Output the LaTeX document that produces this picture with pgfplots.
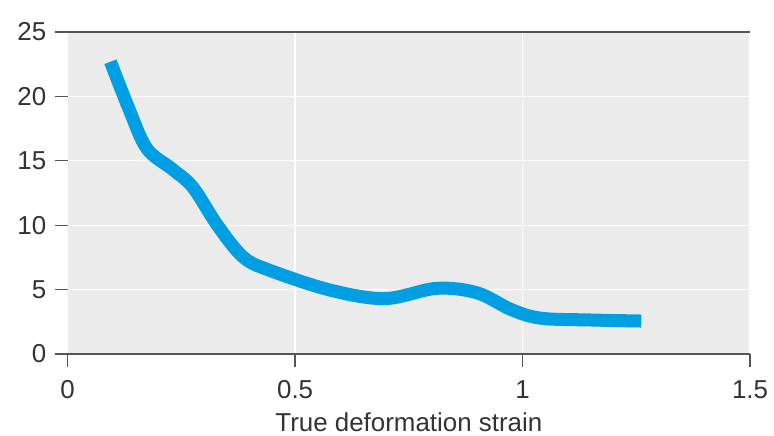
\documentclass[border=0pt]{standalone}
\usepackage{pgfplots}
\pgfplotsset{compat=1.18}
\usepackage{fontspec}
\setmainfont{Liberation Sans}
\definecolor{bgc}{HTML}{EBEBEB}
\definecolor{curve}{HTML}{009FE3}
\definecolor{axc}{HTML}{555555}
\definecolor{txt}{HTML}{333333}

\begin{document}
\begin{tikzpicture}
\begin{axis}[
    at={(0,0)}, anchor=south west,
    scale only axis, width=682.3bp, height=322bp,
    xmin=0, xmax=1.5, ymin=0, ymax=25,
    xtick={0,0.5,1,1.5}, xticklabels={0,0.5,1,1.5},
    ytick={0,5,10,15,20,25},
    separate axis lines,
    x axis line style={draw=axc, line width=1.3bp},
    y axis line style={draw=none},
    axis background/.style={fill=bgc},
    grid=major, major grid style={white, line width=1.3bp},
    tick align=outside, tick pos=left, major tick length=13bp,
    tick style={axc, line width=1.3bp},
    ticklabel style={font=\fontsize{26}{30}\selectfont, text=txt},
    xticklabel style={yshift=-10bp},
    yticklabel style={xshift=-5bp},
    /pgf/number format/assume math mode=true,
    xlabel={True deformation strain},
    xlabel style={font=\fontsize{26}{30}\selectfont, text=txt,
        at={(axis description cs:0.5,0)}, anchor=base, yshift=-77.7bp},
  ]
  \addplot[curve, line width=13bp, smooth, tension=0.55] coordinates {
    (0.094,22.69) (0.135,19.0) (0.174,15.95) (0.230,14.35)
    (0.275,12.95) (0.330,9.95) (0.385,7.55) (0.440,6.55)
    (0.576,4.97) (0.697,4.30) (0.811,5.10)
    (0.900,4.75) (0.975,3.45) (1.040,2.78)
    (1.150,2.64) (1.261,2.56)
  };
\end{axis}
\pgfresetboundingbox
\path[use as bounding box] (-67.7bp,-82bp) rectangle (706.3bp,354bp);
\end{tikzpicture}
\end{document}
